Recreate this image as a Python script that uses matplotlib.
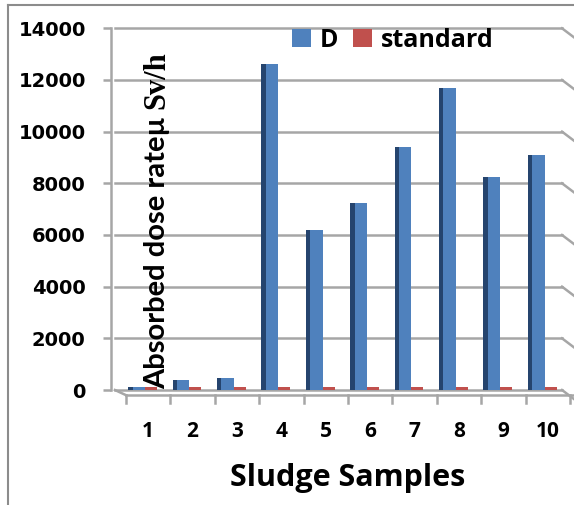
import matplotlib
matplotlib.use("Agg")
import matplotlib.pyplot as plt
from matplotlib.lines import Line2D
from matplotlib.patches import Patch

samples = ["1", "2", "3", "4", "5", "6", "7", "8", "9", "10"]
d_values = [100, 400, 450, 12600, 6200, 7250, 9400, 11700, 8250, 9100]
standard_values = [100, 100, 100, 100, 100, 100, 100, 100, 100, 100]
yticks = [0, 2000, 4000, 6000, 8000, 10000, 12000, 14000]

W, H = 574, 505
fig = plt.figure(figsize=(W / 100, H / 100), dpi=100)

def fx(px):
    return px / W

def fy(py):
    return (H - py) / H

ax = fig.add_axes([fx(126), fy(390), fx(570) - fx(126), fy(28.3) - fy(390)])
ax.set_xlim(0.5, 10.5)
ax.set_ylim(0, 14000)

blue = "#4F81BD"
blue_dark = "#25446E"
red = "#C0504D"
grey = "#A6A6A6"

x = list(range(1, len(samples) + 1))
# main blue bars
ax.bar([i - 0.26 for i in x], d_values, width=0.38, color=blue, zorder=3)
# darker side strip to hint 3D
ax.bar([i - 0.40 for i in x], d_values, width=0.10, color=blue_dark, zorder=4)
# standard bars
ax.bar([i + 0.065 for i in x], standard_values, width=0.27, color=red, zorder=3)

# gridlines with 3D-like tail to the right
for v in yticks:
    ax.plot([0.25, 10.32], [v, v], color=grey, lw=1.8, zorder=1, clip_on=False)
    ax.plot([10.32, 10.62], [v, v - 390], color=grey, lw=1.8, zorder=1, clip_on=False)
# floor front edge
ax.plot([0.25, 0.5], [0, -200], color=grey, lw=1.8, clip_on=False, zorder=1)
ax.plot([0.5, 10.62], [-200, -200], color=grey, lw=1.8, clip_on=False, zorder=1)

for s in ["top", "right", "bottom"]:
    ax.spines[s].set_visible(False)
ax.spines["left"].set_position(("outward", 11))
ax.spines["left"].set_color(grey)
ax.spines["left"].set_linewidth(1.8)

ax.set_yticks(yticks)
ax.set_yticklabels([str(v) for v in yticks], fontfamily="DejaVu Sans",
                   fontweight="bold", fontsize=14)
ax.tick_params(axis="y", length=6, width=1.8, color=grey, pad=12)

ax.set_xticks(x)
ax.set_xticklabels(samples, fontfamily="Open Sans", fontweight="bold", fontsize=15)
ax.tick_params(axis="x", which="major", length=0, pad=22)
# category boundary ticks below the floor
for b in [i + 0.5 for i in range(0, len(samples) + 1)]:
    ax.plot([b, b], [-200, -500], color=grey, lw=1.8, clip_on=False)

# x label
fig.text(fx(348), fy(478), "Sludge Samples", fontfamily="Open Sans",
         fontweight="bold", fontsize=22, ha="center", va="center")

# y label (inside the plot, mixed fonts)
t1 = fig.text(fx(157), fy(389), "Absorbed dose rate\u00b5 ", fontfamily="Lato",
              fontweight="bold", fontsize=21, rotation=90, ha="center",
              va="bottom", zorder=10)
fig.canvas.draw()
bb = t1.get_window_extent(fig.canvas.get_renderer())
fig.text(fx(157), bb.y1 / H, "Sv/h", fontfamily="Liberation Serif",
         fontweight="bold", fontsize=22, rotation=90, ha="center",
         va="bottom", zorder=10)

# legend
handles = [Patch(facecolor=blue, label="D"), Patch(facecolor=red, label="standard")]
leg = fig.legend(handles=handles, loc="upper left",
                 bbox_to_anchor=(fx(292), fy(28)), ncol=2, frameon=False,
                 prop={"family": "Open Sans", "weight": "bold", "size": 18},
                 handlelength=0.75, handleheight=0.75, handletextpad=0.35,
                 columnspacing=0.6, borderpad=0, borderaxespad=0)

# outer border lines (left and top)
fig.add_artist(Line2D([fx(8), fx(8)], [fy(5), 0], color="#8C8C8C", lw=1.5))
fig.add_artist(Line2D([fx(8), 1], [fy(5), fy(5)], color="#8C8C8C", lw=1.5))

fig.savefig("out.png", dpi=100)
